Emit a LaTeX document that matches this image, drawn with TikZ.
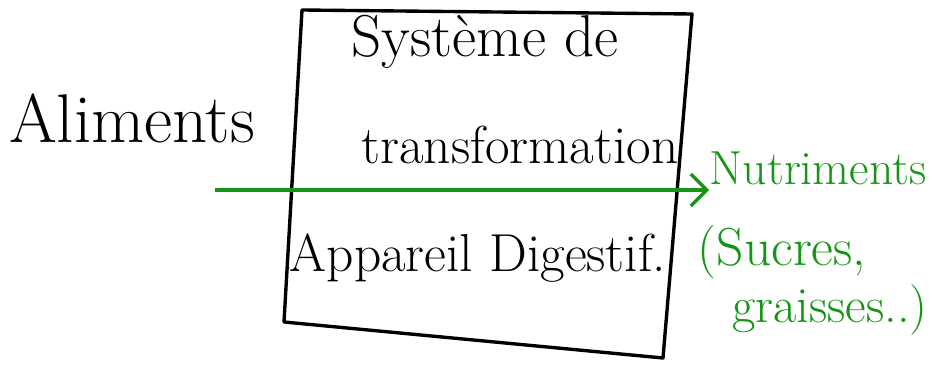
\documentclass[tikz,border=0pt]{standalone}
\usepackage{tikz}
\usetikzlibrary{arrows.meta}
\definecolor{vert}{RGB}{20,150,20}

\begin{document}
\begin{tikzpicture}[x=0.025cm,y=-0.025cm]
  \useasboundingbox (0,0) rectangle (933,367);

  % Boite du systeme
  \coordinate (hg) at (302,10);
  \coordinate (hd) at (692,14);
  \coordinate (bd) at (663,358);
  \coordinate (bg) at (284,322);
  \draw[line width=2.4pt, line join=round] (hg) -- (hd) -- (bd) -- (bg) -- cycle;

  % Textes
  \node[inner sep=0] (alim) at (132,118) {\fontsize{49}{56}\selectfont Aliments};
  \node[inner sep=0] (sys) at (485,42) {\fontsize{42}{48}\selectfont Système de};
  \node[inner sep=0] (transf) at (520,145) {\fontsize{38}{44}\selectfont transformation};
  \node[inner sep=0] (app) at (478,258) {\fontsize{38}{44}\selectfont Appareil Digestif.};
  \node[inner sep=0, vert] (nutri) at (818,168) {\fontsize{34}{40}\selectfont Nutriments};
  \node[inner sep=0, vert] (sucres) at (782,252) {\fontsize{38}{44}\selectfont (Sucres,};
  \node[inner sep=0, vert] (graisses) at (830,310) {\fontsize{36}{42}\selectfont graisses..)};

  % Fleche verte
  \coordinate (entree) at (215,190);
  \draw[vert, line width=2.4pt, -{Straight Barb[length=4mm,width=8mm]}] (entree) -- (entree -| nutri.west);
\end{tikzpicture}
\end{document}
